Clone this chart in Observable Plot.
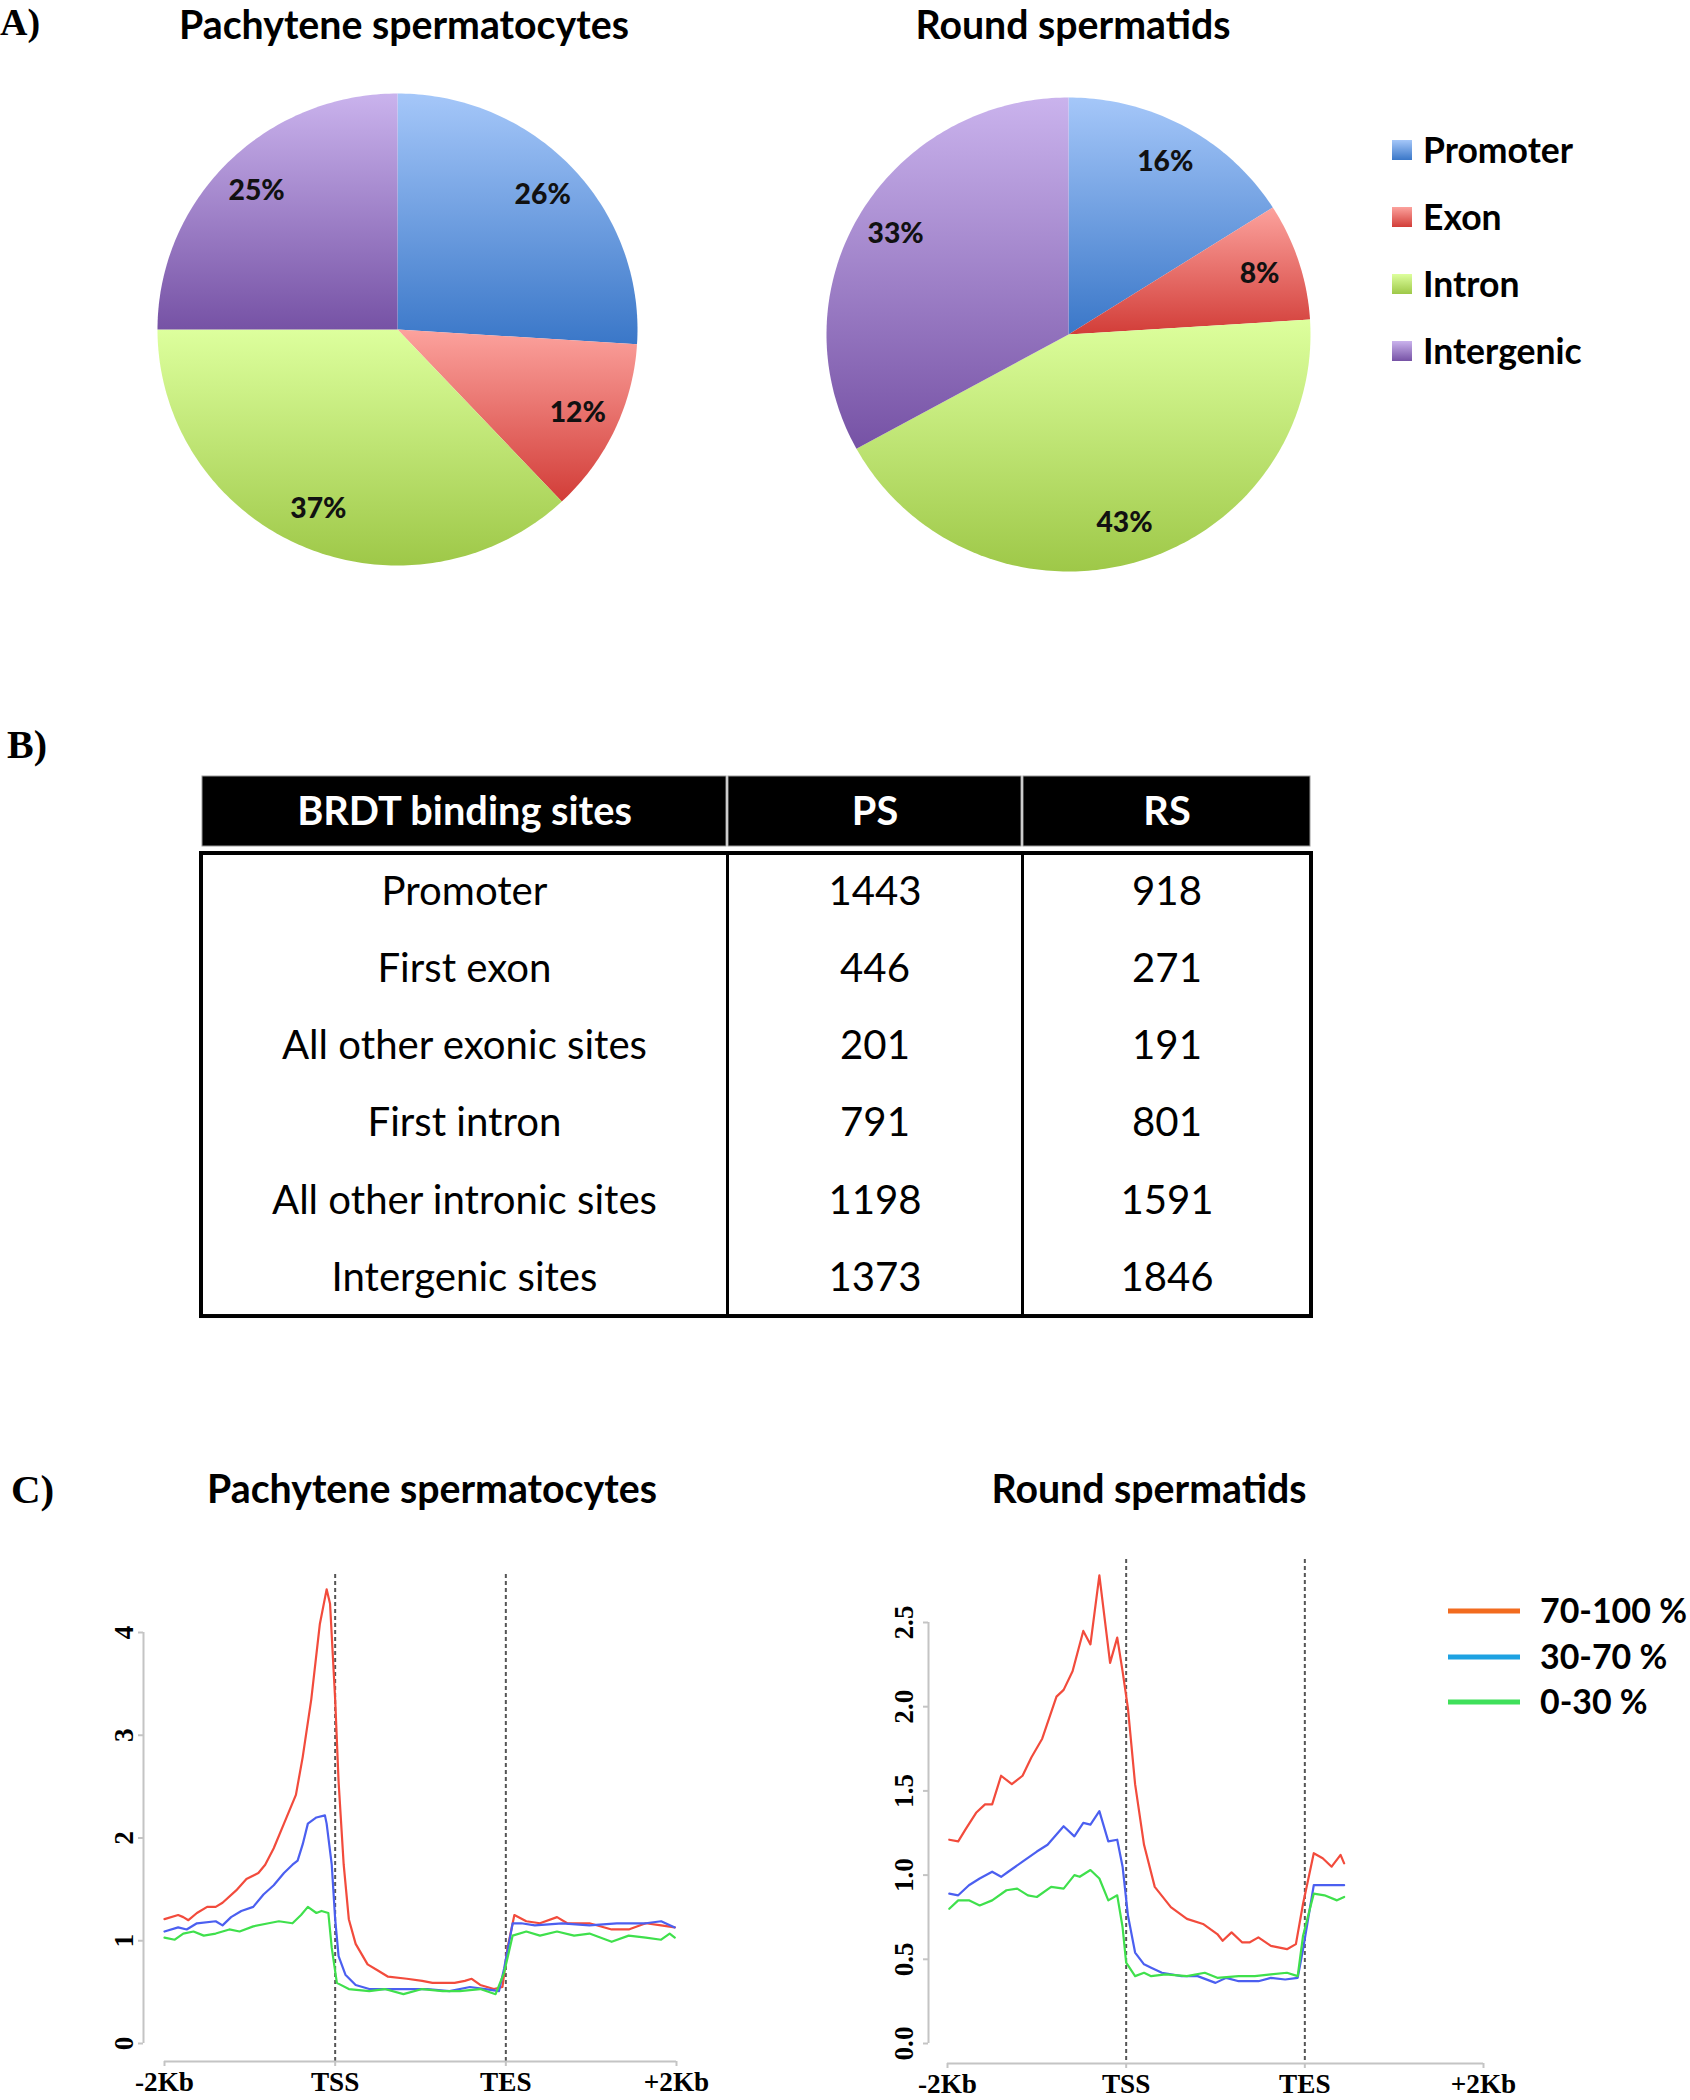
<!DOCTYPE html>
<html>
<head>
<meta charset="utf-8">
<script src="https://cdn.jsdelivr.net/npm/d3@7"></script>
<script src="https://cdn.jsdelivr.net/npm/@observablehq/plot@0.6"></script>
<style>
  body { margin: 0; background: #fff; }
  #fig { position: relative; width: 1690px; height: 2100px; overflow: hidden; background: #fff; }
  .box { position: absolute; }
</style>
</head>
<body>
<div id="fig"></div>
<script>
// ---------------- DATA ----------------
const categories = ["Promoter", "Exon", "Intron", "Intergenic"];
const psShares = [26, 12, 37, 25];
const rsShares = [16, 8, 43, 33];

const tableHeader = ["BRDT binding sites", "PS", "RS"];
const siteTypes = ["Promoter", "First exon", "All other exonic sites", "First intron", "All other intronic sites", "Intergenic sites"];
const psCounts = [1443, 446, 201, 791, 1198, 1373];
const rsCounts = [918, 271, 191, 801, 1591, 1846];

const profileTicks = ["-2Kb", "TSS", "TES", "+2Kb"];
const groups = ["70-100 %", "30-70 %", "0-30 %"];
const psYTicks = [0, 1, 2, 3, 4];
const rsYTicks = [0, 0.5, 1, 1.5, 2, 2.5];

// profile position (0 = -2Kb, 1 = TSS, 2 = TES, 3 = +2Kb), mean signal
const psHigh = [[0.00,1.21],[0.08,1.25],[0.11,1.23],[0.14,1.20],[0.19,1.27],[0.25,1.33],[0.30,1.33],[0.34,1.37],[0.42,1.49],[0.48,1.60],[0.55,1.66],[0.59,1.74],[0.64,1.90],[0.70,2.14],[0.77,2.42],[0.81,2.79],[0.86,3.35],[0.91,4.08],[0.95,4.42],[0.97,4.28],[1.00,3.35],[1.02,2.55],[1.05,1.74],[1.08,1.21],[1.12,0.97],[1.19,0.77],[1.25,0.71],[1.31,0.65],[1.42,0.63],[1.51,0.61],[1.57,0.59],[1.70,0.59],[1.76,0.61],[1.80,0.63],[1.85,0.57],[1.93,0.53],[1.98,0.55],[2.01,0.93],[2.05,1.25],[2.12,1.19],[2.20,1.17],[2.30,1.23],[2.36,1.17],[2.49,1.17],[2.62,1.11],[2.72,1.11],[2.82,1.17],[2.91,1.15],[2.99,1.13]];
const psMid = [[0.00,1.09],[0.08,1.13],[0.13,1.11],[0.19,1.17],[0.30,1.19],[0.34,1.15],[0.39,1.23],[0.45,1.29],[0.52,1.33],[0.58,1.45],[0.64,1.54],[0.70,1.66],[0.75,1.74],[0.78,1.78],[0.81,1.94],[0.84,2.14],[0.89,2.20],[0.94,2.22],[0.95,2.14],[0.98,1.74],[1.00,1.21],[1.02,0.85],[1.06,0.67],[1.12,0.57],[1.20,0.53],[1.29,0.53],[1.42,0.53],[1.54,0.53],[1.67,0.51],[1.79,0.55],[1.88,0.53],[1.96,0.51],[1.99,0.73],[2.04,1.17],[2.09,1.17],[2.17,1.15],[2.33,1.17],[2.49,1.15],[2.65,1.17],[2.82,1.17],[2.91,1.19],[2.99,1.13]];
const psLow = [[0.00,1.03],[0.06,1.01],[0.11,1.07],[0.17,1.09],[0.23,1.05],[0.30,1.07],[0.38,1.11],[0.44,1.09],[0.52,1.14],[0.61,1.17],[0.67,1.19],[0.75,1.17],[0.80,1.25],[0.84,1.33],[0.89,1.27],[0.92,1.29],[0.96,1.27],[0.98,0.93],[1.01,0.59],[1.08,0.53],[1.20,0.51],[1.29,0.53],[1.40,0.48],[1.51,0.53],[1.63,0.51],[1.73,0.51],[1.85,0.53],[1.94,0.48],[1.99,0.69],[2.04,1.05],[2.12,1.09],[2.20,1.05],[2.30,1.09],[2.40,1.05],[2.49,1.07],[2.62,0.99],[2.72,1.05],[2.82,1.03],[2.91,1.01],[2.96,1.07],[2.99,1.03]];

const rsHigh = [[0.01,1.21],[0.06,1.20],[0.10,1.27],[0.16,1.37],[0.21,1.42],[0.25,1.42],[0.30,1.59],[0.36,1.54],[0.42,1.59],[0.47,1.70],[0.53,1.81],[0.61,2.06],[0.65,2.10],[0.70,2.21],[0.76,2.45],[0.80,2.37],[0.85,2.78],[0.91,2.26],[0.95,2.41],[0.98,2.21],[1.01,1.99],[1.05,1.54],[1.10,1.18],[1.16,0.93],[1.25,0.81],[1.34,0.74],[1.43,0.71],[1.51,0.65],[1.54,0.61],[1.59,0.66],[1.65,0.60],[1.69,0.60],[1.74,0.63],[1.81,0.58],[1.90,0.56],[1.95,0.59],[1.99,0.83],[2.05,1.13],[2.10,1.10],[2.15,1.05],[2.20,1.12],[2.22,1.07]];
const rsMid = [[0.01,0.89],[0.06,0.88],[0.12,0.94],[0.18,0.98],[0.25,1.02],[0.30,0.99],[0.34,1.02],[0.42,1.08],[0.50,1.14],[0.56,1.18],[0.65,1.29],[0.71,1.23],[0.76,1.31],[0.80,1.30],[0.85,1.38],[0.90,1.20],[0.95,1.21],[0.98,1.05],[1.01,0.76],[1.05,0.54],[1.10,0.47],[1.14,0.45],[1.20,0.42],[1.31,0.40],[1.40,0.40],[1.50,0.36],[1.56,0.39],[1.63,0.37],[1.74,0.37],[1.81,0.39],[1.89,0.38],[1.96,0.39],[1.99,0.56],[2.05,0.94],[2.11,0.94],[2.22,0.94]];
const rsLow = [[0.01,0.80],[0.06,0.85],[0.12,0.85],[0.18,0.82],[0.25,0.85],[0.33,0.91],[0.39,0.92],[0.45,0.88],[0.50,0.87],[0.58,0.93],[0.65,0.92],[0.71,1.00],[0.74,0.99],[0.80,1.03],[0.85,0.98],[0.90,0.85],[0.95,0.88],[0.98,0.69],[1.00,0.48],[1.05,0.40],[1.10,0.42],[1.14,0.40],[1.22,0.41],[1.34,0.40],[1.44,0.42],[1.51,0.39],[1.63,0.40],[1.72,0.40],[1.81,0.41],[1.90,0.42],[1.96,0.40],[1.99,0.64],[2.05,0.89],[2.11,0.88],[2.18,0.85],[2.22,0.87]];

// ---------------- STYLE / LAYOUT ----------------
const SANS = "Lato";
const SERIF = "Liberation Serif";
const sliceGrad = [["#a5c7f9", "#3a77c8"], ["#fca29d", "#d23d38"], ["#ddff9d", "#9ec848"], ["#cab3ed", "#7652a5"]];
const lineColors = ["#f24b3c", "#4b5ff0", "#3fe04c"];
const legendLineColors = ["#f26b1f", "#1ea2e2", "#3fe05a"];
const axisGray = "#c4c4c4";
const colEdges = [0, 526, 821, 1110];     // table column boundaries (px)
const headerH = 77, rowH = 77.17;          // table row heights (px)

const ctx = document.createElement("canvas").getContext("2d");
function fitSize(text, weight, family, target) {
  ctx.font = `${weight} 100px "${family}"`;
  return 100 * target / ctx.measureText(text).width;
}
const titleSize = fitSize("Pachytene spermatocytes", 700, SANS, 450);
const pieLabelSize = fitSize("26%", 700, SANS, 56);
const pieLegendSize = fitSize("Promoter", 700, SANS, 150);
const bodySize = fitSize("All other intronic sites", 400, SANS, 386);
const headSize = fitSize("BRDT binding sites", 700, SANS, 336);
const tickSize = fitSize("-2Kb", 700, SERIF, 59);
const lineLegendSize = fitSize("70-100 %", 700, SANS, 147);

const fig = d3.select("#fig");
const plotStyle = { background: "transparent", maxWidth: "none", overflow: "visible" };

function place(node, left, top, w, h) {
  fig.append("div").attr("class", "box")
    .style("left", left + "px").style("top", top + "px")
    .style("width", w + "px").style("height", h + "px")
    .node().appendChild(node);
}

// gradient defs (shared by document)
const defsSvg = fig.append("svg").attr("width", 0).attr("height", 0).style("position", "absolute");
const defs = defsSvg.append("defs");
sliceGrad.forEach(([a, b], i) => {
  const g = defs.append("linearGradient").attr("id", "grad" + i)
    .attr("x1", 0).attr("y1", 0).attr("x2", 0).attr("y2", 1);
  g.append("stop").attr("offset", 0).attr("stop-color", a);
  g.append("stop").attr("offset", 1).attr("stop-color", b);
});

// ---------------- A) PIES ----------------
function pieChart(shares, rx, ry) {
  const arcs = d3.pie().sort(null)(shares);
  const slices = arcs.map(a => {
    const n = Math.max(4, Math.ceil((a.endAngle - a.startAngle) * 180 / Math.PI));
    const pts = [{ x: 0, y: 0 }];
    for (let k = 0; k <= n; k++) {
      const t = a.startAngle + (a.endAngle - a.startAngle) * k / n;
      pts.push({ x: Math.sin(t), y: Math.cos(t) });
    }
    pts.push({ x: 0, y: 0 });
    return pts;
  });
  const labels = arcs.map((a, i) => {
    const t = (a.startAngle + a.endAngle) / 2;
    return { x: 0.83 * Math.sin(t), y: 0.83 * Math.cos(t), text: shares[i] + "%" };
  });
  return Plot.plot({
    width: 2 * rx + 20, height: 2 * ry + 20, margin: 10,
    x: { domain: [-1, 1], axis: null }, y: { domain: [-1, 1], axis: null },
    style: plotStyle,
    marks: [
      ...slices.map((pts, i) => Plot.line(pts, { x: "x", y: "y", fill: `url(#grad${i})`, stroke: "none" })),
      Plot.text(labels, { x: "x", y: "y", text: "text", fill: "#111", fontFamily: SANS, fontWeight: 900, fontSize: pieLabelSize })
    ]
  });
}
place(pieChart(psShares, 240, 236), 147, 83, 500, 492);
place(pieChart(rsShares, 242, 237), 816, 87, 504, 494);

// ---------------- B) TABLE ----------------
const colMid = c => (colEdges[c] + colEdges[c + 1]) / 2;
const rowMid = r => headerH + rowH * (r + 0.5);
const bodyBottom = headerH + rowH * siteTypes.length;
const headerCells = tableHeader.map((h, i) => ({ col: i, text: h }));
const tableRows = siteTypes.map((s, i) => ({ row: i, label: s, ps: psCounts[i], rs: rsCounts[i] }));
const tablePlot = Plot.plot({
  width: 1150, height: 580, margin: 0,
  x: { domain: [0, colEdges[3]], range: [21, 21 + colEdges[3]], axis: null },
  y: { domain: [0, bodyBottom], range: [16, 16 + bodyBottom], axis: null },
  style: plotStyle,
  marks: [
    Plot.rect(headerCells, { x1: d => colEdges[d.col], x2: d => colEdges[d.col + 1], y1: 0, y2: headerH, fill: "black", stroke: "#9a9a9a", strokeWidth: 1, insetBottom: 7, insetLeft: 1, insetRight: 1 }),
    Plot.text(headerCells, { x: d => colMid(d.col), y: headerH / 2, dy: -3, text: "text", fill: "white", fontFamily: SANS, fontWeight: 700, fontSize: headSize }),
    Plot.rect([tableRows], { x1: 0, x2: colEdges[3], y1: headerH, y2: bodyBottom, fill: "none", stroke: "black", strokeWidth: 4 }),
    Plot.ruleX([colEdges[1], colEdges[2]], { y1: headerH, y2: bodyBottom, stroke: "black", strokeWidth: 3 }),
    Plot.text(tableRows, { x: colMid(0), y: d => rowMid(d.row), text: "label", fill: "black", fontFamily: SANS, fontSize: bodySize }),
    Plot.text(tableRows, { x: colMid(1), y: d => rowMid(d.row), text: d => String(d.ps), fill: "black", fontFamily: SANS, fontSize: bodySize }),
    Plot.text(tableRows, { x: colMid(2), y: d => rowMid(d.row), text: d => String(d.rs), fill: "black", fontFamily: SANS, fontSize: bodySize })
  ]
});
place(tablePlot, 180, 760, 1150, 580);

// ---------------- C) PROFILES ----------------
function profileChart({ series, yMax, yTicks, fmt, width, height, marginLeft, marginTop, marginBottom, xRange, yRange, axisDx, xAxisDy, labelDx, labelDy }) {
  return Plot.plot({
    width, height, marginLeft, marginTop, marginBottom, marginRight: 0,
    x: { domain: [0, 3], range: xRange },
    y: { domain: [0, yMax], range: yRange },
    style: plotStyle,
    marks: [
      Plot.ruleX([1, 2], { stroke: "#555", strokeWidth: 2, strokeDasharray: "4,3" }),
      Plot.ruleX([0], { y1: 0, y2: yMax, dx: axisDx, stroke: axisGray, strokeWidth: 2 }),
      Plot.axisY({ ticks: yTicks, tickSize: 5, tickFormat: () => "", stroke: axisGray, strokeWidth: 2, label: null }),
      Plot.ruleY([0], { x1: 0, x2: 3, dy: xAxisDy, stroke: axisGray, strokeWidth: 2 }),
      Plot.axisX({ ticks: [0, 1, 2, 3], tickSize: 5, tickFormat: () => "", stroke: axisGray, strokeWidth: 2, label: null }),
      Plot.text(yTicks, { x: 0, y: d => d, text: fmt, rotate: -90, dx: labelDx, fill: "black", fontFamily: SERIF, fontWeight: 700, fontSize: tickSize }),
      Plot.text(profileTicks, { x: (d, i) => i, y: 0, dy: labelDy, text: d => d, fill: "black", fontFamily: SERIF, fontWeight: 700, fontSize: tickSize }),
      ...series.map((s, i) => Plot.line(s, { x: d => d[0], y: d => d[1], stroke: lineColors[i], strokeWidth: 2.2 }))
    ]
  });
}
place(profileChart({
  series: [psHigh, psMid, psLow], yMax: 4, yTicks: psYTicks, fmt: d => String(d),
  width: 720, height: 560, marginLeft: 143, marginTop: 34, marginBottom: 39,
  xRange: [164, 676], yRange: [503, 92], axisDx: -21, xAxisDy: 18, labelDx: -40, labelDy: 39
}), 0, 1540, 720, 560);
place(profileChart({
  series: [rsHigh, rsMid, rsLow], yMax: 2.5, yTicks: rsYTicks, fmt: d3.format(".1f"),
  width: 845, height: 560, marginLeft: 83, marginTop: 19, marginBottom: 37,
  xRange: [102, 638], yRange: [503, 82], axisDx: -19, xAxisDy: 20, labelDx: -43, labelDy: 41
}), 845, 1540, 845, 560);

// ---------------- TITLES, PANEL LABELS, LEGENDS ----------------
const ov = fig.append("svg").attr("width", 1690).attr("height", 2100)
  .style("position", "absolute").style("left", 0).style("top", 0).style("pointer-events", "none");

function txt(t, x, y, size, opts = {}) {
  return ov.append("text").attr("x", x).attr("y", y).text(t)
    .attr("font-family", opts.family || SANS).attr("font-weight", opts.weight || 700)
    .attr("font-size", size).attr("text-anchor", opts.anchor || "start")
    .attr("fill", "black").attr("dy", opts.dy || null);
}
txt("A)", 0, 35, 38, { family: SERIF });
txt("B)", 7, 758, 40, { family: SERIF });
txt("C)", 11, 1503, 41, { family: SERIF });
txt("Pachytene spermatocytes", 404, 39, titleSize, { anchor: "middle" });
txt("Round spermatids", 1073, 39, titleSize, { anchor: "middle" });
txt("Pachytene spermatocytes", 432, 1503, titleSize, { anchor: "middle" });
txt("Round spermatids", 1149, 1503, titleSize, { anchor: "middle" });

// pie legend
const pieLegendY = [150, 217, 284, 351];
categories.forEach((c, i) => {
  ov.append("rect").attr("x", 1392).attr("y", pieLegendY[i] - 10).attr("width", 20).attr("height", 20)
    .attr("fill", `url(#grad${i})`);
  txt(c, 1423, pieLegendY[i], pieLegendSize, { dy: "0.36em" });
});

// profile legend
const lineLegendY = [1611, 1657, 1702];
groups.forEach((g, i) => {
  ov.append("line").attr("x1", 1448).attr("x2", 1520).attr("y1", lineLegendY[i]).attr("y2", lineLegendY[i])
    .attr("stroke", legendLineColors[i]).attr("stroke-width", 5);
  txt(g, 1540, lineLegendY[i], lineLegendSize, { dy: "0.36em" });
});
</script>
</body>
</html>
